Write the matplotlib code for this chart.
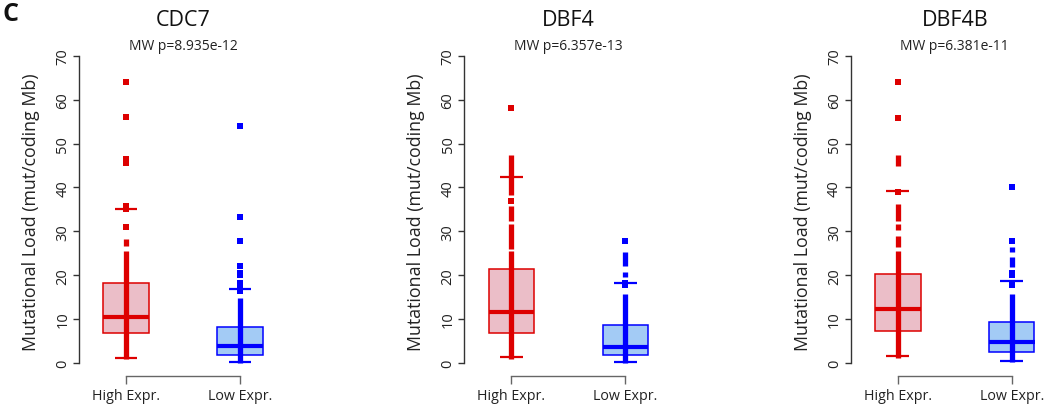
import matplotlib
matplotlib.use("Agg")
import matplotlib.pyplot as plt

plt.rcParams['font.family'] = ['Open Sans', 'DejaVu Sans']

genes = ["CDC7", "DBF4", "DBF4B"]
pvalues = ["MW p=8.935e-12", "MW p=6.357e-13", "MW p=6.381e-11"]
groups = ["High Expr.", "Low Expr."]
ylabel = "Mutational Load (mut/coding Mb)"
yticks = [0, 10, 20, 30, 40, 50, 60, 70]

# box stats per gene: [high, low], each (whisker_lo, q1, median, q3, whisker_hi)
cdc7_box = [(1.1, 6.8, 10.4, 18.2, 35.0), (0.2, 1.7, 3.9, 8.1, 16.9)]
dbf4_box = [(1.3, 6.8, 11.6, 21.4, 42.4), (0.1, 1.9, 3.7, 8.7, 18.3)]
dbf4b_box = [(1.6, 7.2, 12.2, 20.3, 39.1), (0.5, 2.4, 4.8, 9.4, 18.7)]

# contiguous runs of overlapping points (lo, hi)
cdc7_runs = [[(0.9, 25.5), (26.6, 28.2)], [(0.0, 14.7)]]
dbf4_runs = [[(0.9, 25.6), (26.0, 31.6), (32.4, 35.8), (38.2, 47.3)],
             [(0.0, 15.7), (19.5, 20.7), (22.2, 25.2)]]
dbf4b_runs = [[(1.0, 25.6), (26.4, 29.0), (30.2, 31.7), (32.4, 36.3), (45.0, 47.3)],
              [(0.2, 15.7), (21.8, 24.1), (25.2, 26.4)]]

# isolated points
cdc7_pts = [[31.0, 35.0, 35.8, 45.5, 46.6, 56.0, 64.0],
            [16.3, 17.5, 18.3, 20.0, 20.6, 22.2, 27.8, 33.2, 54.1]]
dbf4_pts = [[37.0, 58.1], [17.8, 18.3, 27.9]]
dbf4b_pts = [[39.0, 55.8, 64.0], [17.8, 18.3, 20.0, 20.6, 27.8, 40.1]]

boxes = [cdc7_box, dbf4_box, dbf4b_box]
runs = [cdc7_runs, dbf4_runs, dbf4b_runs]
pts = [cdc7_pts, dbf4_pts, dbf4b_pts]

edge_cols = ["#DD0000", "#0000FF"]
fill_cols = ["#EBBEC8", "#A3CBF5"]

W, H = 1044, 406
fig = plt.figure(figsize=(W / 100, H / 100), dpi=100)

axis_px = [79, 464.3, 850.7]
unit_px = 114.0
x0 = 1 - 47.0 / unit_px
x1 = 2.55
ylim = (-3.0, 72.0)
ax_bottom_px = 377
ax_h_px = 377 - (364 - 72 * 4.386)

for k in range(3):
    left = axis_px[k] / W
    width = (x1 - x0) * unit_px / W
    ax = fig.add_axes([left, (H - ax_bottom_px) / H, width, ax_h_px / H])
    ax.set_xlim(x0, x1)
    ax.set_ylim(*ylim)
    for g in range(2):
        x = g + 1
        wl, q1, med, q3, wh = boxes[k][g]
        ec, fc = edge_cols[g], fill_cols[g]
        ax.add_patch(plt.Rectangle((x - 0.2, q1), 0.4, q3 - q1, facecolor=fc,
                                   edgecolor=ec, linewidth=1.1, zorder=2))
        for lo, hi in runs[k][g]:
            ax.plot([x, x], [lo, hi], color=ec, linewidth=3.8,
                    solid_capstyle='butt', zorder=3)
        ax.plot([x] * len(pts[k][g]), pts[k][g], linestyle='none', marker='s',
                markersize=3.8, color=ec, markeredgewidth=0, zorder=3)
        ax.plot([x - 0.2, x + 0.2], [med, med], color=ec, linewidth=3.0,
                solid_capstyle='butt', zorder=4)
        for wv in (wl, wh):
            ax.plot([x - 0.1, x + 0.1], [wv, wv], color=ec, linewidth=1.6,
                    solid_capstyle='butt', zorder=4)
    for s in ('top', 'right'):
        ax.spines[s].set_visible(False)
    ax.spines['left'].set_bounds(0, 70)
    ax.spines['bottom'].set_bounds(1, 2)
    ax.spines['left'].set_color('#333333')
    ax.spines['bottom'].set_color('#666666')
    ax.spines['left'].set_linewidth(1.0)
    ax.spines['bottom'].set_linewidth(1.0)
    ax.set_yticks(yticks)
    ax.set_yticklabels([str(v) for v in yticks], rotation=90, va='center',
                       fontsize=10.5, color='#222222')
    ax.set_xticks([1, 2])
    ax.set_xticklabels(groups, fontsize=10.3, color='#222222')
    ax.tick_params(axis='y', length=4.3, width=1.0, color='#333333', pad=2)
    ax.tick_params(axis='x', length=6, width=1.0, color='#666666', pad=3)
    ax.set_ylabel(ylabel, fontsize=12.8, color='#222222', labelpad=11)
    ax.patch.set_alpha(0)
    # titles
    cx = (axis_px[k] + 47 + 57) / W
    fig.text(cx, 1 - 20 / H, genes[k], ha='center', va='center', fontsize=15.5,
             color='#111111')
    fig.text(cx, 1 - 47 / H, pvalues[k], ha='center', va='center', fontsize=10,
             color='#222222')

fig.text(2 / W, 1 - 2 / H, "C", ha='left', va='top', fontsize=18,
         fontweight='bold', color='#111111')

fig.savefig("out.png", dpi=100)
